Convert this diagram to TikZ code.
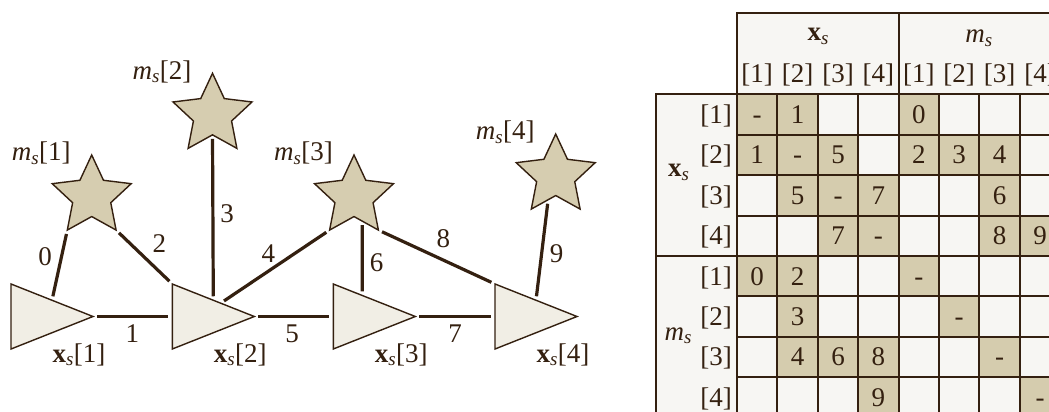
\documentclass[tikz,border=0pt]{standalone}
\usepackage{fontspec}
\setmainfont{Liberation Serif}
\usetikzlibrary{shapes.geometric,calc}
\definecolor{ink}{RGB}{52,32,16}
\definecolor{starfill}{RGB}{214,205,176}
\definecolor{trifill}{RGB}{241,238,229}
\definecolor{tablebg}{RGB}{247,246,243}
\definecolor{cellshade}{RGB}{213,204,174}
\newcommand{\labxs}{\textbf{x}\textsubscript{\textit{s}}}
\newcommand{\labms}{\textit{m}\textsubscript{\textit{s}}}
\begin{document}
\begin{tikzpicture}[x=1pt,y=-1pt,
  font=\fontsize{27}{32}\selectfont, text=ink,
  tri/.style={draw=none,minimum width=82pt,minimum height=65pt,inner sep=0pt,outer sep=0pt},
  trishape/.style={draw=ink,fill=trifill,line width=1.4pt},
  starnode/.style={shape=star,star points=5,star point ratio=2.07,minimum size=83pt,
    inner sep=0pt,outer sep=0pt,draw=ink,fill=starfill,line width=1.4pt},
  link/.style={draw=ink,line width=3.2pt,shorten >=4pt,shorten <=4pt},
  elabel/.style={inner sep=0pt},
  lbl/.style={inner sep=0pt,anchor=base},
  tline/.style={draw=ink,line width=2pt}]
\useasboundingbox (0,0) rectangle (1049,412);
\clip (0,0) rectangle (1049,412);
\fill[white] (0,0) rectangle (1049,412);

% ---------- graph ----------
\foreach \i/\xc in {1/52,2/213.3,3/374.3,4/536}{
  \node[tri] (t\i) at (\xc,316.5) {};
  \draw[trishape] (t\i.north west) -- (t\i.east) -- (t\i.south west) -- cycle;
  \node[lbl] (lx\i) at ({\xc+27},362) {\labxs[\i]};
}
\foreach \i/\xc/\yc in {1/91.7/196.5,2/212.5/114.8,3/354/196.5,4/555.7/175.5}{
  \node[starnode] (s\i) at (\xc,\yc) {};
  \node[lbl] (lm\i) at ({\xc-50.5},{\yc-35.8}) {\labms[\i]};
}
\draw[link] (s1.outer point 3) -- ($(t1.north west)!0.5!(t1.east)$);
\draw[link] (t1.east) -- (t2.west);
\draw[link] (s1.outer point 4) -- (t2.north west);
\draw[link] (s2.inner point 3) -- ($(t2.north west)!0.5!(t2.east)$);
\draw[link] (s3.outer point 3) -- ($(t2.north west)!0.59!(t2.east)$);
\draw[link] (t2.east) -- (t3.west);
\draw[link] ($(s3.inner point 3)!0.34!(s3.outer point 4)$) -- ($(t3.north west)!0.352!(t3.east)$);
\draw[link] (t3.east) -- (t4.west);
\draw[link] (s3.outer point 4) -- (t4.north west);
\draw[link] ($(s4.inner point 3)!0.31!(s4.outer point 3)$) -- ($(t4.north west)!0.5!(t4.east)$);

\foreach \n/\xc/\yc in {0/45/257,1/132.3/334,2/159.3/243.5,3/227/214,4/268.3/253.5,
  5/292/334,6/376.7/262.5,7/455/334,8/443.3/238.5,9/556.7/254}{
  \node[elabel] (e\n) at (\xc,\yc) {\n};
}

% ---------- table ----------
\fill[tablebg] (737,13.5) rectangle (1060.2,94.3);
\fill[tablebg] (656.2,94.3) rectangle (1060.2,417.5);
\foreach \ri/\ci/\txt in {1/1/-,1/2/1,1/5/0,
  2/1/1,2/2/-,2/3/5,2/5/2,2/6/3,2/7/4,
  3/2/5,3/3/-,3/4/7,3/7/6,
  4/3/7,4/4/-,4/7/8,4/8/9,
  5/1/0,5/2/2,5/5/-,
  6/2/3,6/6/-,
  7/2/4,7/3/6,7/4/8,7/7/-,
  8/4/9,8/8/-}{
  \fill[cellshade] ({737+(\ci-1)*40.4},{94.3+(\ri-1)*40.4}) rectangle ++(40.4,40.4);
  \node[lbl] (k\ri\ci) at ({737+(\ci-0.5)*40.4},{94.3+(\ri-0.5)*40.4+9}) {\txt};
}
\foreach \ci in {0,...,8}{
  \draw[tline] ({737+\ci*40.4},94.3) -- ({737+\ci*40.4},417.5);
}
\foreach \ri in {0,...,8}{
  \draw[tline] (737,{94.3+\ri*40.4}) -- (1060.2,{94.3+\ri*40.4});
}
\draw[tline] (737,94.3) -- (737,13.5) -- (1060.2,13.5);
\draw[tline] (899.4,13.5) -- (899.4,94.3);
\draw[tline] (737,94.3) -- (656.2,94.3) -- (656.2,417.5);
\draw[tline] (656.2,255.9) -- (737,255.9);

\node[lbl] (hx) at (818.2,41) {\labxs};
\node[lbl] (hm) at (979,43) {\labms};
\foreach \ci/\n in {1/1,2/2,3/3,4/4,5/1,6/2,7/3,8/4}{
  \node[lbl] (ch\ci) at ({737+(\ci-0.5)*40.4},82) {[\n]};
}
\foreach \ri/\n in {1/1,2/2,3/3,4/4,5/1,6/2,7/3,8/4}{
  \node[inner sep=0pt,anchor=base east] (rh\ri) at (732,{94.3+(\ri-0.5)*40.4+9}) {[\n]};
}
\node[lbl] (gx) at (678.8,176.7) {\labxs};
\node[lbl] (gm) at (678.3,340) {\labms};
\end{tikzpicture}
\end{document}
